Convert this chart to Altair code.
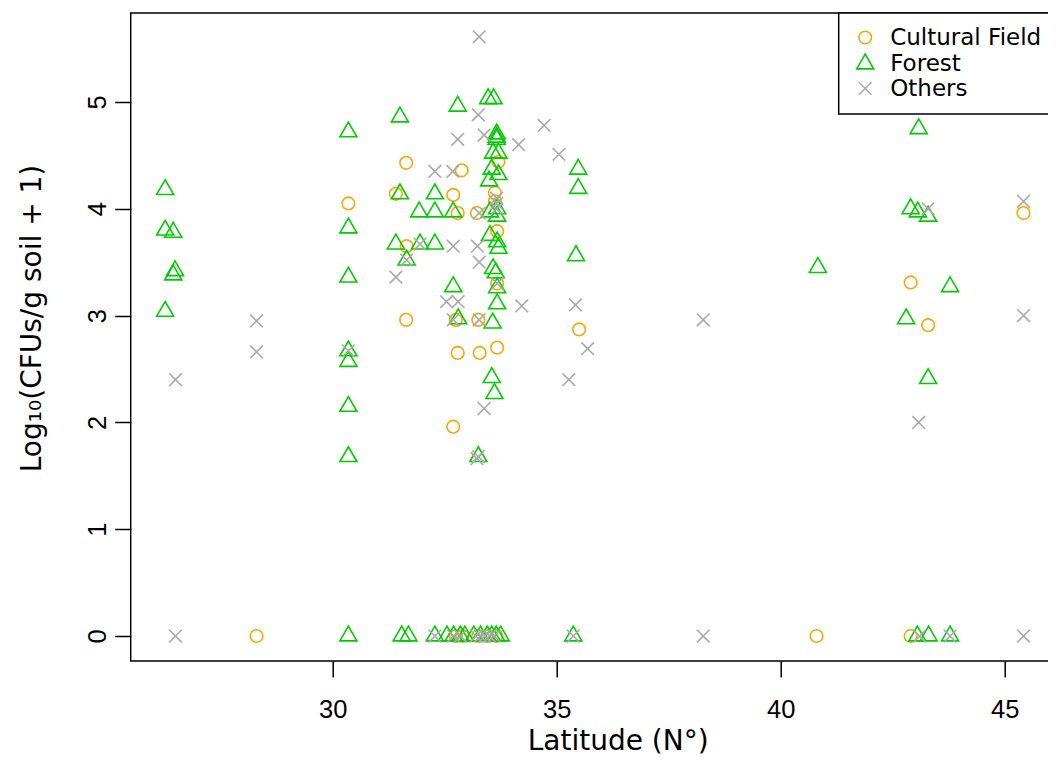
import altair as alt
import pandas as pd

categories = ["Cultural Field", "Forest", "Others"]
colors = ["#FFA500", "#00CD00", "#A9A9A9"]

cf_lat = [28.30, 30.35, 31.41, 31.64, 31.65, 31.64, 32.88, 32.69, 32.79, 33.22, 32.75, 33.25,
          32.79, 33.28, 32.69, 33.70, 33.62, 33.62, 33.67, 33.67, 33.67, 35.50, 42.90, 43.29,
          45.42, 40.80, 42.90, 32.75, 32.90, 33.25, 33.45, 33.65]
cf_val = [0, 4.05, 4.14, 4.43, 3.65, 2.96, 4.36, 4.13, 3.96, 3.96, 2.96, 2.96,
          2.65, 2.65, 1.96, 4.44, 4.15, 4.07, 3.79, 3.30, 2.70, 2.87, 3.31, 2.91,
          3.96, 0, 0, 0, 0, 0, 0, 0]

forest_lat = [26.26, 26.26, 26.44, 26.48, 26.44, 26.26,
              30.35, 30.35, 30.35, 30.35, 30.35, 30.35, 30.35, 30.35,
              31.50, 31.50, 31.41, 31.65, 31.54, 31.69,
              31.93, 32.28, 32.69, 32.28, 31.95, 32.28,
              32.79, 32.69, 32.80,
              33.47, 33.59,
              33.66, 33.66, 33.66, 33.58, 33.70, 33.55, 33.70, 33.49, 33.51, 33.67, 33.67,
              33.51, 33.67, 33.70, 33.58, 33.64, 33.67, 33.67, 33.57, 33.55, 33.61, 33.25,
              35.48, 35.48, 35.43, 35.37,
              40.83,
              43.08, 42.90, 43.06, 43.29, 43.78, 42.80, 43.29,
              32.28, 32.55, 32.70, 32.85, 32.95, 33.15, 33.30, 33.45, 33.55, 33.65, 33.75,
              43.05, 43.30, 43.78]
forest_val = [4.18, 3.80, 3.78, 3.42, 3.38, 3.04,
              4.72, 3.82, 3.36, 2.67, 2.57, 2.15, 1.68, 0,
              4.86, 4.14, 3.67, 3.52, 0, 0,
              3.97, 3.97, 3.97, 4.14, 3.67, 3.67,
              4.96, 3.27, 2.97,
              5.03, 5.03,
              4.70, 4.67, 4.65, 4.52, 4.52, 4.37, 4.32, 4.26, 3.97, 4.00, 3.93,
              3.75, 3.69, 3.63, 3.44, 3.40, 3.26, 3.11, 2.93, 2.42, 2.27, 1.68,
              4.37, 4.19, 3.56, 0,
              3.45,
              4.75, 4.00, 3.97, 3.93, 3.27, 2.97, 2.41,
              0, 0, 0, 0, 0, 0, 0, 0, 0, 0, 0,
              0, 0, 0]

others_lat = [26.49, 26.49, 28.30, 28.30,
              30.35,
              31.41, 31.65, 31.95,
              32.28, 32.68,
              32.79, 33.27, 33.25, 33.38, 34.72, 34.15, 35.05,
              33.66, 33.66, 33.66,
              33.27,
              32.69, 33.23, 33.27,
              32.54, 32.80,
              32.69, 33.27,
              33.67,
              34.22, 35.42, 35.69, 35.27,
              33.38,
              33.25, 33.22,
              38.27,
              43.29, 45.42, 45.42, 43.08,
              32.28, 32.70, 32.85, 33.20, 33.30, 33.40, 33.50, 33.60, 35.37, 38.27,
              43.10, 43.78, 45.42]
others_val = [2.40, 0, 2.95, 2.66,
              2.67,
              3.36, 3.52, 3.67,
              4.35, 4.35,
              4.65, 5.61, 4.88, 4.69, 4.78, 4.60, 4.51,
              4.10, 4.05, 4.00,
              3.96,
              3.65, 3.65, 3.50,
              3.13, 3.13,
              2.96, 2.96,
              3.30,
              3.09, 3.10, 2.69, 2.40,
              2.13,
              1.68, 1.66,
              2.96,
              4.00, 4.07, 3.00, 2.00,
              0, 0, 0, 0, 0, 0, 0, 0, 0, 0,
              0, 0, 0]

x_ticks = [30, 35, 40, 45]
y_ticks = [0, 1, 2, 3, 4, 5]

rows = []
for name, lats, vals in [(categories[0], cf_lat, cf_val),
                         (categories[1], forest_lat, forest_val),
                         (categories[2], others_lat, others_val)]:
    for a, b in zip(lats, vals):
        rows.append({"lat": a, "val": b, "type": name})
df = pd.DataFrame(rows)
df["order"] = range(len(df))

TRIANGLE = "M0,-1.555L1.347,0.778L-1.347,0.778Z"
XSHAPE = "M-1,-1L1,1M-1,1L1,-1"
shapes = ["circle", TRIANGLE, XSHAPE]

legend = alt.Legend(title=None, labelExpr="datum.label + '\u00a0\u00a0\u00a0'")

chart = alt.Chart(df).mark_point(filled=False, size=159, strokeWidth=1.6, opacity=1).encode(
    x=alt.X("lat:Q",
            scale=alt.Scale(domain=[25.491, 46.205], nice=False, zero=False),
            axis=alt.Axis(values=x_ticks, title="Latitude (N°)",
                          labelAngle=0, labelAlign="center", labelBaseline="alphabetic",
                          labelPadding=40, titleX=487, titleY=88, titleBaseline="alphabetic",
                          titleAlign="center")),
    y=alt.Y("val:Q",
            scale=alt.Scale(domain=[-0.234, 5.833], nice=False, zero=False),
            axis=alt.Axis(values=y_ticks, title="Log₁₀(CFUs/g soil + 1)",
                          labelAngle=270, labelAlign="center", labelBaseline="alphabetic",
                          labelPadding=9, titleX=-90, titleY=305, titleBaseline="alphabetic",
                          titleAlign="center", titleAngle=270)),
    color=alt.Color("type:N", scale=alt.Scale(domain=categories, range=colors), legend=legend),
    shape=alt.Shape("type:N", scale=alt.Scale(domain=categories, range=shapes), legend=legend),
    order=alt.Order("order:Q"),
).properties(
    width=928,
    height=648,
    autosize=alt.AutoSizeParams(type="none"),
    padding={"left": 122.7, "top": 5, "right": -10.7, "bottom": 95},
).configure_view(
    stroke="black", strokeWidth=1.5
).configure_axis(
    domain=False, grid=False, ticks=True, tickColor="black", tickWidth=1.5, tickSize=16,
    labelColor="black", labelFont="Liberation Sans", labelFontSize=25.5,
    titleFont="DejaVu Sans", titleFontSize=28, titleFontWeight="normal", titleColor="black",
).configure_legend(
    orient="none", legendX=708, legendY=0, strokeColor="black", strokeWidth=1.5,
    padding=13, labelFont="DejaVu Sans", labelFontSize=23, labelColor="black",
    symbolSize=159, symbolStrokeWidth=1.6, rowPadding=0.5, symbolOffset=2, labelOffset=13.5,
    fillColor="white", labelLimit=400,
)

chart.save("out.html", embed_options={"renderer": "svg", "actions": False})
